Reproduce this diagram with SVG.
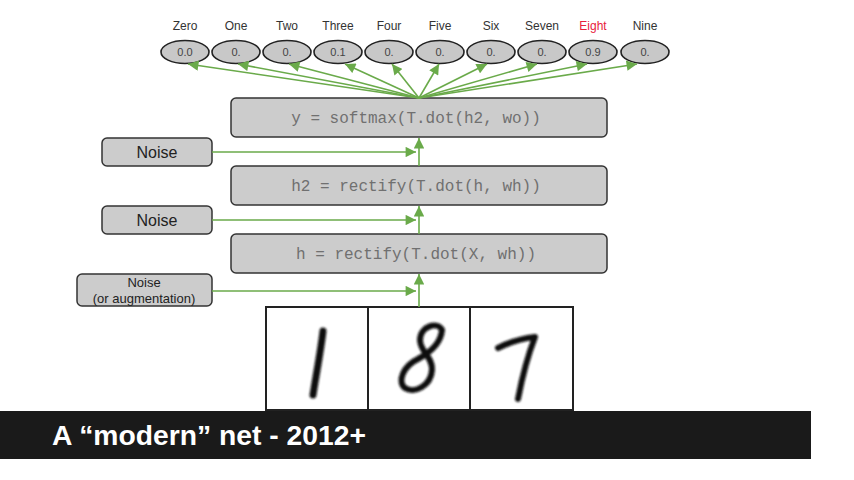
<svg xmlns="http://www.w3.org/2000/svg" width="854" height="480" viewBox="0 0 854 480">
<style>
.lbl{font-family:"Liberation Sans",Arial,sans-serif;font-size:12px;fill:#333;text-anchor:middle}
.val{font-family:"Liberation Sans",Arial,sans-serif;font-size:11px;fill:#444;text-anchor:middle}
.ell{fill:#c8c8c8;stroke:#222;stroke-width:1.6}
.box{fill:#cccccc;stroke:#333;stroke-width:1.5}
.code{font-family:"Liberation Mono","Courier New",monospace;font-size:16px;fill:#707070;text-anchor:middle}
.noise{font-family:"Liberation Sans",Arial,sans-serif;font-size:16px;fill:#222;text-anchor:middle}
.noise2{font-family:"Liberation Sans",Arial,sans-serif;font-size:13px;fill:#222;text-anchor:middle}
.con{stroke:#6aaa4a;stroke-width:1.6;fill:none;marker-end:url(#ah)}
.dig{fill:none;stroke:#111;stroke-width:7;stroke-linecap:round;stroke-linejoin:round}
</style>
<defs>
<marker id="ah" viewBox="0 0 10 10" refX="10" refY="5" markerWidth="7" markerHeight="6.5" markerUnits="strokeWidth" orient="auto">
<path d="M0,0 L10,5 L0,10 Z" fill="#6aaa4a"/>
</marker>
<filter id="soft"><feGaussianBlur stdDeviation="0.9"/></filter>
</defs>
<rect width="854" height="480" fill="#fff"/>

<g id="outputs">
<g id="o0"><text class="lbl" x="185" y="30">Zero</text><ellipse class="ell" cx="185" cy="52" rx="24" ry="11.5"/><text class="val" x="185" y="56">0.0</text></g>
<g id="o1"><text class="lbl" x="236" y="30">One</text><ellipse class="ell" cx="236" cy="52" rx="24" ry="11.5"/><text class="val" x="236" y="56">0.</text></g>
<g id="o2"><text class="lbl" x="287" y="30">Two</text><ellipse class="ell" cx="287" cy="52" rx="24" ry="11.5"/><text class="val" x="287" y="56">0.</text></g>
<g id="o3"><text class="lbl" x="338" y="30">Three</text><ellipse class="ell" cx="338" cy="52" rx="24" ry="11.5"/><text class="val" x="338" y="56">0.1</text></g>
<g id="o4"><text class="lbl" x="389" y="30">Four</text><ellipse class="ell" cx="389" cy="52" rx="24" ry="11.5"/><text class="val" x="389" y="56">0.</text></g>
<g id="o5"><text class="lbl" x="440" y="30">Five</text><ellipse class="ell" cx="440" cy="52" rx="24" ry="11.5"/><text class="val" x="440" y="56">0.</text></g>
<g id="o6"><text class="lbl" x="491" y="30">Six</text><ellipse class="ell" cx="491" cy="52" rx="24" ry="11.5"/><text class="val" x="491" y="56">0.</text></g>
<g id="o7"><text class="lbl" x="542" y="30">Seven</text><ellipse class="ell" cx="542" cy="52" rx="24" ry="11.5"/><text class="val" x="542" y="56">0.</text></g>
<g id="o8"><text class="lbl" x="593" y="30" style="fill:#e8203c">Eight</text><ellipse class="ell" cx="593" cy="52" rx="24" ry="11.5"/><text class="val" x="593" y="56">0.9</text></g>
<g id="o9"><text class="lbl" x="645" y="30">Nine</text><ellipse class="ell" cx="645" cy="52" rx="24" ry="11.5"/><text class="val" x="645" y="56">0.</text></g>
</g>

<g id="layer-out"><rect class="box" x="231" y="98" width="376" height="39" rx="5"/><text class="code" x="416" y="123">y = softmax(T.dot(h2, wo))</text></g>
<g id="layer-h2"><rect class="box" x="231" y="166" width="376" height="39" rx="5"/><text class="code" x="416" y="191">h2 = rectify(T.dot(h, wh))</text></g>
<g id="layer-h"><rect class="box" x="231" y="234" width="376" height="39" rx="5"/><text class="code" x="416" y="259">h = rectify(T.dot(X, wh))</text></g>

<g id="noise1"><rect class="box" x="102" y="138" width="110" height="28" rx="5"/><text class="noise" x="157" y="158">Noise</text></g>
<g id="noise2"><rect class="box" x="102" y="206" width="110" height="28" rx="5"/><text class="noise" x="157" y="226">Noise</text></g>
<g id="noise3"><rect class="box" x="77" y="274" width="135" height="32" rx="5"/><text class="noise2" x="144" y="287">Noise</text><text class="noise2" x="144" y="303">(or augmentation)</text></g>

<g id="input">
<rect x="266" y="307" width="102" height="103" fill="#fff" stroke="#222" stroke-width="2"/>
<rect x="368" y="307" width="102" height="103" fill="#fff" stroke="#222" stroke-width="2"/>
<rect x="470" y="307" width="103" height="103" fill="#fff" stroke="#222" stroke-width="2"/>
<g filter="url(#soft)">
<path class="dig" d="M323 331 C321 350 316 375 313 395"/>
<path class="dig" style="stroke-width:6" d="M442 330 C438 321 420 326 420 340 C420 352 433 357 432 370 C431 386 414 394 405 388 C397 382 403 366 418 359 C431 352 441 342 442 330"/>
<path class="dig" style="stroke-width:6" d="M498 348 C510 342 525 338 535 337 C528 355 522 378 518 399"/>
</g>
</g>

<g id="connectors">
<line class="con" x1="419" y1="98" x2="188" y2="64"/>
<line class="con" x1="419" y1="98" x2="238" y2="64"/>
<line class="con" x1="419" y1="98" x2="289" y2="64"/>
<line class="con" x1="419" y1="98" x2="345" y2="64"/>
<line class="con" x1="419" y1="98" x2="392" y2="64"/>
<line class="con" x1="419" y1="98" x2="439" y2="64"/>
<line class="con" x1="419" y1="98" x2="487" y2="64"/>
<line class="con" x1="419" y1="98" x2="537" y2="64"/>
<line class="con" x1="419" y1="98" x2="587" y2="64"/>
<line class="con" x1="419" y1="98" x2="637" y2="64"/>
<line class="con" x1="419" y1="166" x2="419" y2="138"/>
<line class="con" x1="419" y1="234" x2="419" y2="206"/>
<line class="con" x1="419" y1="307" x2="419" y2="274"/>
<line class="con" x1="212" y1="152" x2="416" y2="152"/>
<line class="con" x1="212" y1="220" x2="416" y2="220"/>
<line class="con" x1="212" y1="291" x2="416" y2="291"/>
</g>

<g id="title-bar">
<rect x="0" y="411" width="811" height="48" fill="#1a1a1a"/>
<text x="52" y="445" font-family="'Liberation Sans',Arial,sans-serif" font-size="28" font-weight="bold" fill="#fff" textLength="314" lengthAdjust="spacingAndGlyphs">A “modern” net - 2012+</text>
</g>
</svg>
